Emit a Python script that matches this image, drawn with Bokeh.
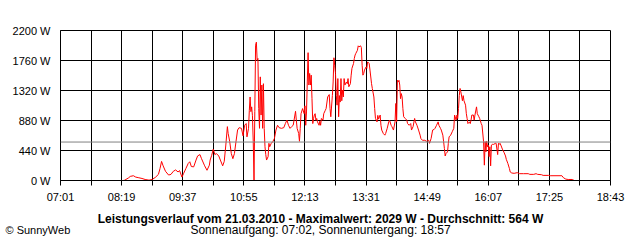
from bokeh.plotting import figure
from bokeh.models import Range1d, FixedTicker, Span, Label
from bokeh.embed import file_html
from bokeh.resources import INLINE

# ---- data ----
tick_labels = ["07:01", "08:19", "09:37", "10:55", "12:13", "13:31",
               "14:49", "16:07", "17:25", "18:43"]
y_ticks = [0, 440, 880, 1320, 1760, 2200]
avg_w = 564
max_w = 2029
date_str = "21.03.2010"
sunrise = "07:02"
sunset = "18:57"

minutes = [501, 503, 508, 510, 514, 517, 521, 525, 529, 534, 538, 542, 546, 548, 550, 552, 555, 559, 562, 565,
           568, 571, 573, 576, 578, 581, 584, 586, 588, 591, 594, 596, 599, 601, 605, 608, 611, 612, 614, 616,
           618, 620, 623, 625, 628, 630, 632, 634, 635, 637, 639, 641, 643, 645, 647, 649, 652, 654, 656, 658,
           659, 661, 662, 663, 664, 665, 666, 667, 668, 669, 670, 671, 672, 673, 674, 675, 676, 677, 678, 679,
           680, 681, 682, 683, 684, 686, 687, 688, 690, 692, 694, 696, 698, 700, 703, 706, 708, 710, 712, 714,
           716, 718, 721, 722, 723, 725, 726, 727, 728, 730, 732, 733, 734, 735, 736, 737, 738, 739, 740, 741,
           742, 743, 744, 745, 746, 747, 748, 749, 751, 752, 753, 754, 756, 757, 759, 760, 762, 764, 765, 766,
           768, 769, 770, 771, 772, 773, 774, 775, 776, 777, 778, 779, 780, 781, 782, 783, 784, 786, 787, 788,
           789, 791, 792, 793, 795, 796, 797, 798, 800, 801, 802, 804, 805, 806, 807, 808, 809, 811, 812, 813,
           815, 816, 818, 819, 821, 822, 823, 825, 826, 827, 829, 830, 831, 833, 835, 836, 838, 840, 841, 843,
           844, 846, 848, 849, 850, 851, 852, 853, 854, 855, 856, 857, 858, 859, 861, 863, 864, 866, 868, 869,
           871, 873, 874, 876, 878, 880, 881, 883, 886, 888, 891, 892, 894, 896, 898, 899, 901, 903, 904, 906,
           907, 909, 910, 911, 912, 913, 915, 916, 917, 919, 921, 923, 924, 926, 927, 928, 929, 930, 931, 932,
           934, 935, 936, 938, 939, 940, 941, 943, 944, 945, 946, 948, 949, 950, 952, 953, 955, 956, 958, 959,
           961, 962, 963, 964, 965, 966, 967, 968, 969, 970, 971, 972, 974, 976, 977, 979, 980, 981, 982, 983,
           985, 987, 989, 990, 992, 994, 995, 997, 1000, 1004, 1007, 1012, 1018, 1020, 1025, 1028, 1030, 1035,
           1037, 1044, 1046, 1061, 1063, 1066, 1069, 1074, 1076, 1077]

watts = [0, 5, 40, 60, 70, 50, 40, 30, 15, 5, 15, 45, 90, 175, 280, 215, 135, 80, 90, 135,
         155, 125, 145, 50, 100, 175, 250, 275, 205, 200, 300, 360, 380, 320, 215, 150, 225, 300, 370, 460,
         380, 395, 360, 300, 215, 280, 520, 790, 690, 570, 395, 320, 395, 570, 740, 775, 765, 655, 810, 835,
         640, 765, 1030, 1225, 1010, 1080, 950, 570, 5, 1010, 1985, 2029, 1765, 1790, 1055, 765, 1520, 960, 1400, 765,
         1420, 765, 495, 380, 300, 350, 545, 495, 545, 570, 615, 740, 810, 775, 765, 775, 835, 885, 810, 765,
         790, 810, 1015, 885, 765, 690, 575, 765, 980, 1055, 980, 1095, 810, 1005, 1445, 1875, 1400, 1570, 1400, 1545,
         1200, 835, 910, 960, 980, 885, 910, 860, 810, 870, 810, 910, 885, 980, 1030, 1055, 1225, 1260, 1055, 935,
         1245, 1445, 1800, 1690, 1570, 1245, 1105, 1495, 935, 1245, 1150, 1495, 1170, 1325, 1225, 1495, 1400, 1445, 1420, 1495,
         1375, 1420, 1545, 1645, 1715, 1790, 1840, 1865, 1910, 1975, 1960, 1975, 1950, 1690, 1545, 1570, 1620, 1665, 1645, 1740,
         1715, 1620, 1420, 1350, 1225, 1055, 910, 860, 955, 900, 960, 810, 740, 690, 665, 690, 765, 860, 885, 810,
         790, 740, 860, 1130, 860, 1470, 1445, 1470, 1400, 1200, 1275, 1225, 1055, 935, 910, 885, 835, 810, 835, 740,
         790, 910, 860, 810, 740, 665, 615, 590, 590, 575, 590, 545, 615, 740, 750, 765, 810, 860, 810, 765,
         740, 665, 570, 470, 360, 395, 420, 545, 640, 665, 715, 765, 960, 885, 960, 910, 1055, 1245, 1350, 1300,
         1170, 1245, 1170, 1105, 980, 910, 835, 860, 835, 885, 960, 960, 885, 960, 1080, 980, 935, 910, 835, 810,
         570, 225, 570, 420, 575, 495, 520, 350, 495, 215, 520, 530, 530, 545, 545, 380, 545, 530, 545, 520,
         460, 415, 360, 310, 250, 175, 125, 110, 105, 115, 100, 100, 100, 90, 90, 100, 90, 85,
         75, 75, 70, 70, 40, 20, 15, 15, 5, 0]


def to_min(s):
    h, m = s.split(":")
    return int(h) * 60 + int(m)


label_min = [to_min(s) for s in tick_labels]
grid_min = []
for a, b in zip(label_min[:-1], label_min[1:]):
    grid_min += [a, (a + b) // 2]
grid_min.append(label_min[-1])
x_over = {g: "" for g in grid_min}
for m, s in zip(label_min, tick_labels):
    x_over[m] = s
y_over = {v: f"{v} W" for v in y_ticks}

FONT = "Liberation Sans"

p = figure(width=640, height=240, output_backend="svg", toolbar_location=None,
           x_range=Range1d(label_min[0], label_min[-1]), y_range=Range1d(y_ticks[0], y_ticks[-1]),
           min_border_left=60, min_border_right=30, min_border_top=30, min_border_bottom=60,
           background_fill_color="white", border_fill_color="white")

p.outline_line_color = "black"
p.outline_line_width = 1

p.xaxis.ticker = FixedTicker(ticks=grid_min)
p.xaxis.major_label_overrides = x_over
p.yaxis.ticker = FixedTicker(ticks=y_ticks)
p.yaxis.major_label_overrides = y_over

for ax in (p.xaxis, p.yaxis):
    ax.axis_line_color = "black"
    ax.major_tick_line_color = "black"
    ax.minor_tick_line_color = None
    ax.major_tick_in = 0
    ax.major_label_text_font = FONT
    ax.major_label_text_font_size = "11px"
    ax.major_label_text_color = "black"

p.xaxis.major_tick_out = 5
p.xaxis.major_label_standoff = 5
p.yaxis.major_tick_out = 0
p.yaxis.major_label_standoff = 10

p.xgrid.ticker = FixedTicker(ticks=grid_min)
p.ygrid.ticker = FixedTicker(ticks=y_ticks)
for g in (p.xgrid, p.ygrid):
    g.grid_line_color = "black"
    g.grid_line_alpha = 1.0
    g.grid_line_width = 1

p.add_layout(Span(location=avg_w, dimension="width", line_color="#808080", line_width=1))

p.line(minutes, watts, line_color="#ff0000", line_width=1)

title1 = f"Leistungsverlauf vom {date_str} - Maximalwert: {max_w} W - Durchschnitt: {avg_w} W"
title2 = f"Sonnenaufgang: {sunrise}, Sonnenuntergang: {sunset}"

p.add_layout(Label(x=260, y=1, x_units="screen", y_units="screen", text=title1,
                   text_align="center", text_baseline="middle", text_font=FONT,
                   text_font_size="12px", text_font_style="bold", text_color="black"), "below")
p.add_layout(Label(x=260, y=4, x_units="screen", y_units="screen", text=title2,
                   text_align="center", text_baseline="middle", text_font=FONT,
                   text_font_size="12px", text_color="black"), "below")
p.add_layout(Label(x=-55, y=-199, x_units="screen", y_units="screen", text="© SunnyWeb",
                   text_align="left", text_baseline="middle", text_font=FONT,
                   text_font_size="11px", text_color="black"), "above")

open("out.html", "w").write(file_html(p, INLINE))
